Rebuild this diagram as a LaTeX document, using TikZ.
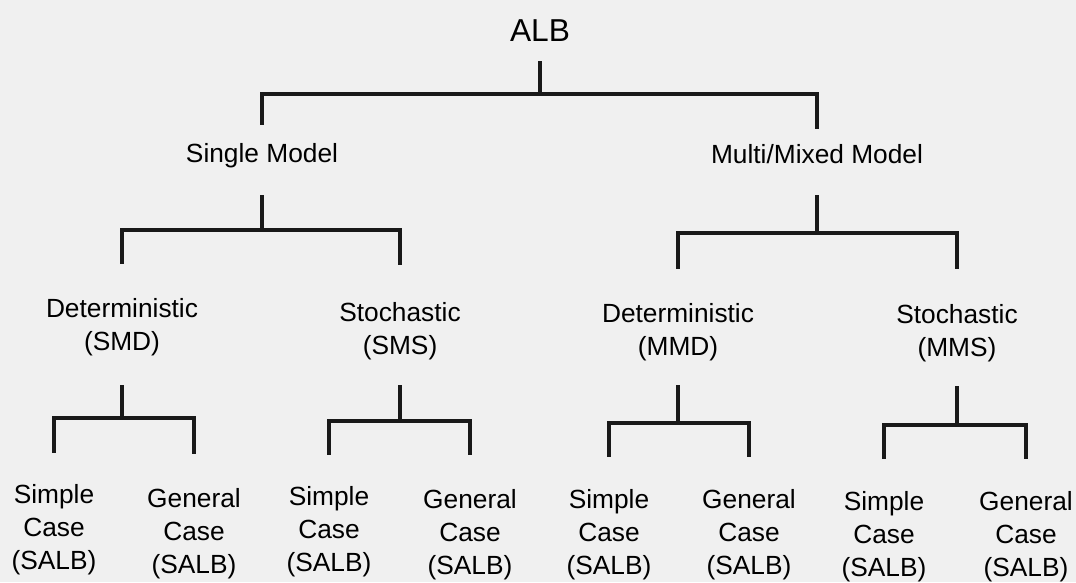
\documentclass[tikz,border=0pt]{standalone}
\usepackage{fontspec}
\setmainfont{Liberation Sans}
\begin{document}
\begin{tikzpicture}[x=1pt,y=-1pt,
  lbl/.style={inner sep=0pt,anchor=base,align=center,text=black,font=\fontsize{26.3}{33}\selectfont},
  toplbl/.style={inner sep=0pt,anchor=base,text=black,font=\fontsize{31.7}{36}\selectfont},
  conn/.style={line width=3.3pt,line cap=rect,line join=miter,black!90}]
\useasboundingbox[fill=black!6] (0,0) rectangle (1076,582);
% nodes
\node[toplbl] (alb) at (540,41) {ALB};
\node[lbl] (single) at (262,162) {Single Model};
\node[lbl] (multi) at (817,163) {Multi/Mixed Model};
\node[lbl] (smd) at (122,350) {Deterministic\\(SMD)};
\node[lbl] (sms) at (400,354) {Stochastic\\(SMS)};
\node[lbl] (mmd) at (678,355) {Deterministic\\(MMD)};
\node[lbl] (mms) at (957,356) {Stochastic\\(MMS)};
\node[lbl] (s1) at (54,569) {Simple\\Case\\(SALB)};
\node[lbl] (g1) at (194,573) {General\\Case\\(SALB)};
\node[lbl] (s2) at (329,571) {Simple\\Case\\(SALB)};
\node[lbl] (g2) at (470,574) {General\\Case\\(SALB)};
\node[lbl] (s3) at (609,574) {Simple\\Case\\(SALB)};
\node[lbl] (g3) at (749,574) {General\\Case\\(SALB)};
\node[lbl] (s4) at (884,576) {Simple\\Case\\(SALB)};
\node[lbl] (g4) at (1026,576) {General\\Case\\(SALB)};
% bar junctions
\coordinate (j0) at (alb.base |- 0,94);
\coordinate (j1) at (single.base |- 0,230);
\coordinate (j2) at (multi.base |- 0,233);
\coordinate (j3) at (smd.base |- 0,418);
\coordinate (j4) at (sms.base |- 0,421);
\coordinate (j5) at (mmd.base |- 0,423);
\coordinate (j6) at (mms.base |- 0,425);
% connectors
\draw[conn] ([yshift=-22pt]alb.base) -- (j0);
\draw[conn] ([yshift=39pt]single.base) |- (j0) -| ([yshift=36pt]multi.base);
\draw[conn] ([yshift=-35pt]single.base) -- (j1);
\draw[conn] ([yshift=88pt]smd.base) |- (j1) -| ([yshift=91pt]sms.base);
\draw[conn] ([yshift=-34pt]multi.base) -- (j2);
\draw[conn] ([yshift=88pt]mmd.base) |- (j2) -| ([yshift=89pt]mms.base);
\draw[conn] ([yshift=-37pt]smd.base) -- (j3);
\draw[conn] ([yshift=118pt]s1.base) |- (j3) -| ([yshift=121pt]g1.base);
\draw[conn] ([yshift=-33pt]sms.base) -- (j4);
\draw[conn] ([yshift=118pt]s2.base) |- (j4) -| ([yshift=121pt]g2.base);
\draw[conn] ([yshift=-32pt]mmd.base) -- (j5);
\draw[conn] ([yshift=119pt]s3.base) |- (j5) -| ([yshift=119pt]g3.base);
\draw[conn] ([yshift=-32pt]mms.base) -- (j6);
\draw[conn] ([yshift=119pt]s4.base) |- (j6) -| ([yshift=119pt]g4.base);
\end{tikzpicture}
\end{document}
